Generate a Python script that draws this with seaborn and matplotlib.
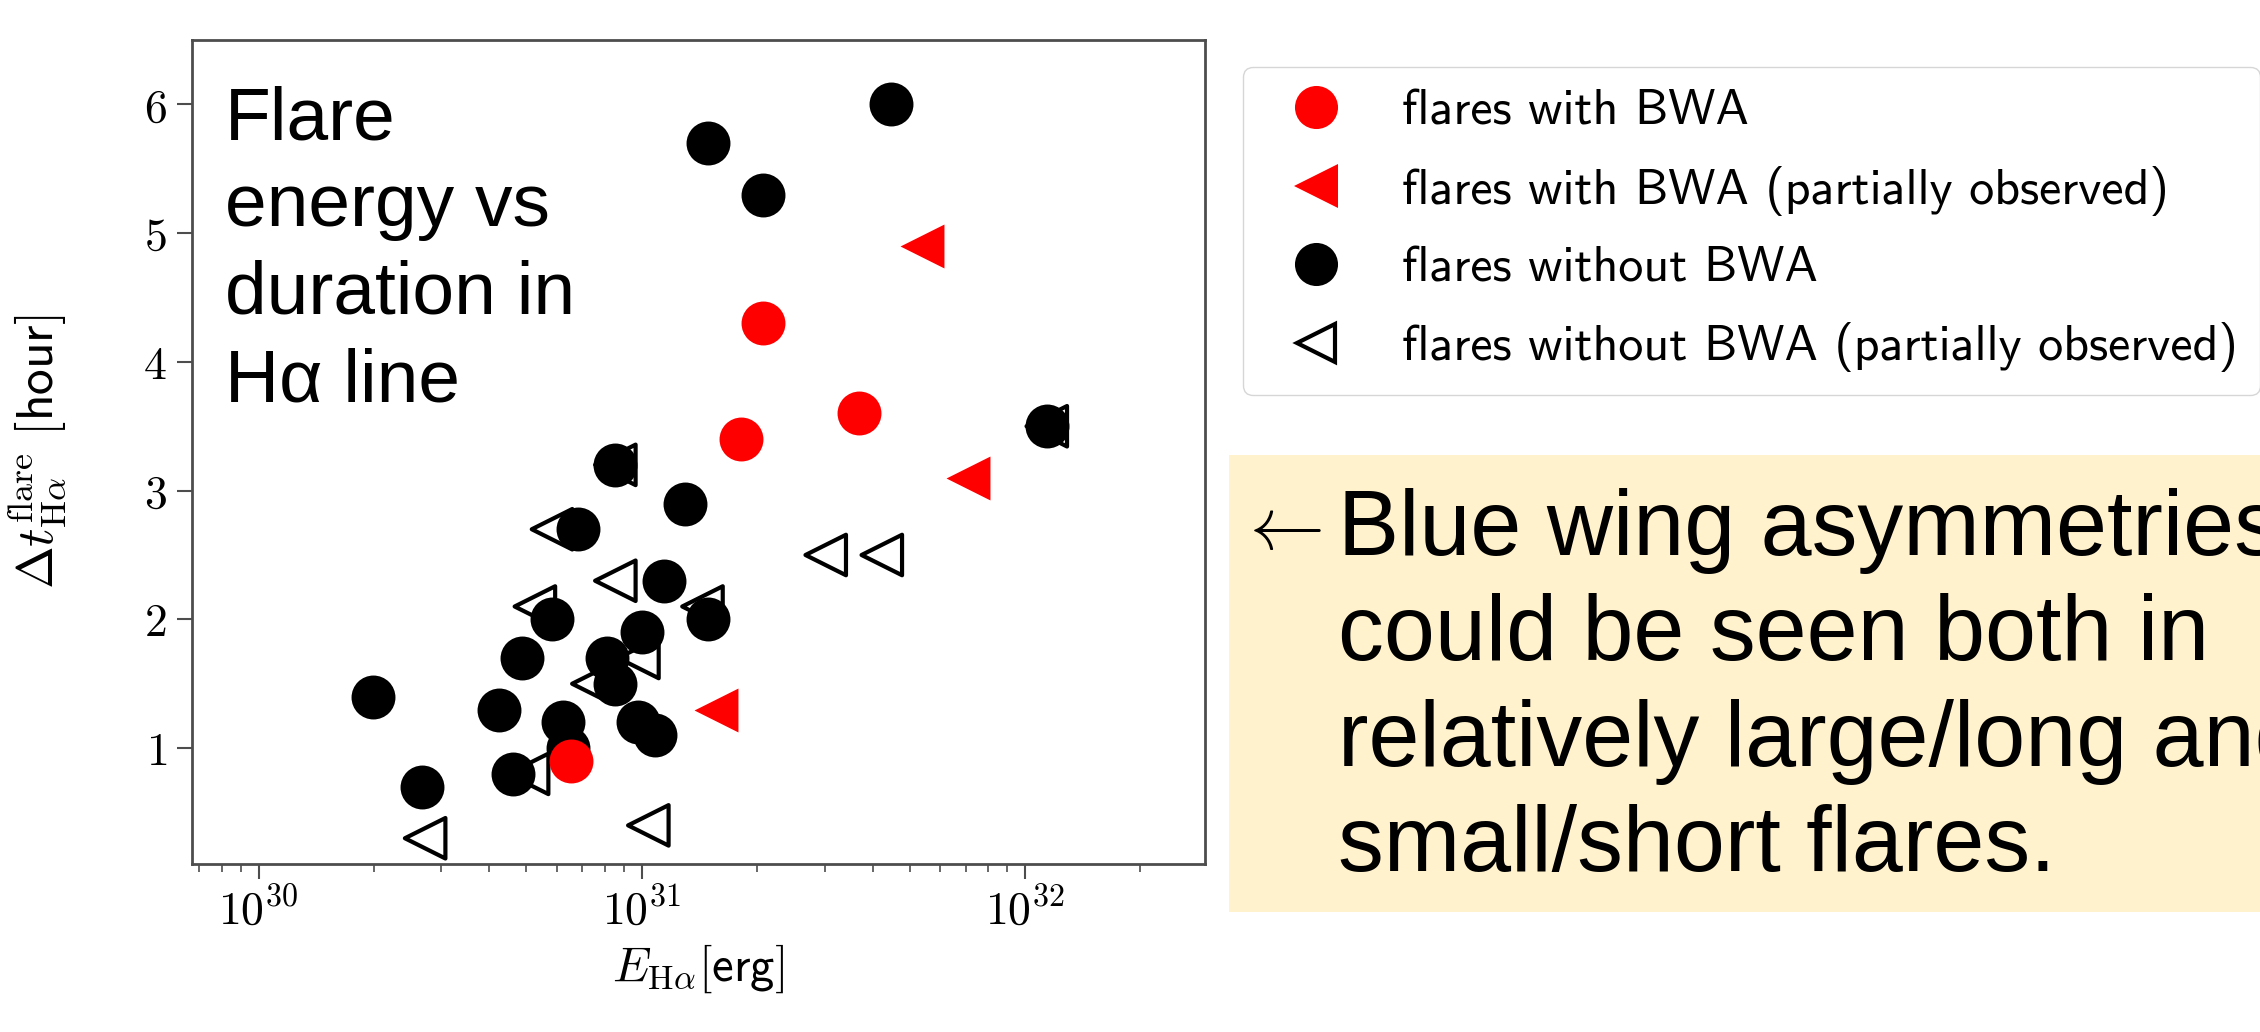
import matplotlib
matplotlib.use("Agg")
import numpy as np
from matplotlib import pyplot as plt
from matplotlib.lines import Line2D
from matplotlib.patches import Rectangle
from matplotlib.ticker import FixedLocator, FuncFormatter, LogLocator, NullFormatter
import seaborn as sns

# flares with BWA
bwa_energy = [2.07e31, 1.82e31, 3.68e31, 6.53e30]
bwa_duration = [4.3, 3.4, 3.6, 0.9]

# flares with BWA (partially observed)
bwa_part_energy = [5.38e31, 7.08e31, 1.56e31]
bwa_part_duration = [4.9, 3.1, 1.3]

# flares without BWA
nobwa_energy = [4.46e31, 1.49e31, 2.07e31, 1.14e32, 8.53e30, 1.30e31, 6.82e30,
                1.14e31, 5.83e30, 1.49e31, 1.00e31, 4.88e30, 8.09e30, 8.53e30,
                1.99e30, 4.25e30, 6.21e30, 6.41e30, 9.79e30, 1.08e31, 4.62e30,
                2.67e30]
nobwa_duration = [6.0, 5.7, 5.3, 3.5, 3.2, 2.9, 2.7,
                  2.3, 2.0, 2.0, 1.9, 1.7, 1.7, 1.5,
                  1.4, 1.3, 1.2, 1.0, 1.2, 1.1, 0.8,
                  0.7]

# flares without BWA (partially observed)
nobwa_part_energy = [5.83e30, 3.02e31, 4.23e31, 8.53e30, 5.26e30, 1.44e31,
                     9.8e30, 7.43e30, 5.05e30, 2.72e30, 1.04e31, 8.53e30,
                     1.14e32]
nobwa_part_duration = [2.7, 2.5, 2.5, 2.3, 2.1, 2.1,
                       1.7, 1.5, 0.8, 0.3, 0.4, 3.2,
                       3.5]

legend_labels = [
    "flares with BWA",
    "flares with BWA (partially observed)",
    "flares without BWA",
    "flares without BWA (partially observed)",
]
x_ticks = [1e30, 1e31, 1e32]
y_ticks = [1, 2, 3, 4, 5, 6]

title_text = "Flare\nenergy vs\nduration in\nHα line"
note_text = ("Blue wing asymmetries\ncould be seen both in\n"
             "relatively large/long and\nsmall/short flares.")

sns.set_theme(style="ticks")
plt.rcParams["font.family"] = ["Liberation Sans", "DejaVu Sans"]
plt.rcParams["mathtext.fontset"] = "cm"
plt.rcParams["axes.unicode_minus"] = False
plt.rcParams["text.color"] = "black"
plt.rcParams["axes.labelcolor"] = "black"

W, H = 2260, 1032
fig = plt.figure(figsize=(22.6, 10.32), dpi=100)
ax = fig.add_axes([192 / W, 1 - 864 / H, 1013 / W, 824 / H])

MS = 1000
sns.scatterplot(x=nobwa_part_energy, y=nobwa_part_duration, marker="<", s=850,
                color="black", linewidth=3, ax=ax, zorder=2)
open_tri = ax.collections[-1]
open_tri.set_facecolor("none")
open_tri.set_edgecolor("black")
sns.scatterplot(x=nobwa_energy, y=nobwa_duration, marker="o", s=MS,
                color="black", linewidth=0, ax=ax, zorder=3)
sns.scatterplot(x=bwa_part_energy, y=bwa_part_duration, marker="<", s=MS,
                color="red", linewidth=0, ax=ax, zorder=4)
sns.scatterplot(x=bwa_energy, y=bwa_duration, marker="o", s=MS,
                color="red", linewidth=0, ax=ax, zorder=5)

ax.set_xscale("log")
ax.set_xlim(6.7e29, 2.95e32)
ax.set_ylim(0.1, 6.5)
ax.xaxis.set_major_locator(FixedLocator(x_ticks))
ax.xaxis.set_major_formatter(
    FuncFormatter(lambda v, p: r"$10^{%d}$" % round(np.log10(v))))
ax.xaxis.set_minor_locator(LogLocator(base=10, subs=np.arange(2, 10), numticks=20))
ax.xaxis.set_minor_formatter(NullFormatter())
ax.yaxis.set_major_locator(FixedLocator(y_ticks))
ax.yaxis.set_major_formatter(FuncFormatter(lambda v, p: r"$%d$" % v))

ax.tick_params(axis="both", which="major", direction="out", length=11,
               width=1.5, color="0.3", labelsize=33, pad=7, labelcolor="black")
ax.tick_params(axis="x", which="minor", direction="out", length=6,
               width=1.2, color="0.3")
for sp in ax.spines.values():
    sp.set_color("0.3")
    sp.set_linewidth(2)

ax.set_xlabel(r"$E_{\rm H\alpha}\mathsf{[erg]}$", fontsize=35, labelpad=6)
ax.set_ylabel(r"$\Delta t^{\rm flare}_{\rm H\alpha}\ \mathsf{[hour]}$",
              fontsize=37)
ax.yaxis.set_label_coords(-0.122, 0.5)

fig.text(225 / W, 1 - 85 / H, title_text, fontsize=54, va="top", ha="left",
         linespacing=1.34)

# yellow note box
fig.add_artist(Rectangle((1229 / W, 1 - 912 / H), 1.0, 457 / H,
                         transform=fig.transFigure, facecolor="#FFF2CC",
                         edgecolor="none", zorder=0))
fig.text(1236 / W, 1 - 529 / H, r"$\leftarrow$", fontsize=54, va="center",
         ha="left")
fig.text(1338 / W, 1 - 488 / H, note_text, fontsize=66, va="top", ha="left",
         linespacing=1.29)

handles = [
    Line2D([], [], ls="none", marker="o", ms=31, mfc="red", mec="red", mew=0),
    Line2D([], [], ls="none", marker="<", ms=31, mfc="red", mec="red", mew=0),
    Line2D([], [], ls="none", marker="o", ms=31, mfc="black", mec="black", mew=0),
    Line2D([], [], ls="none", marker="<", ms=28, mfc="none", mec="black", mew=3),
]
fig.legend(handles, legend_labels, loc="upper left",
           bbox_to_anchor=(1243 / W, 1 - 67 / H),
           prop={"family": "cmss10", "size": 36}, frameon=True,
           borderaxespad=0, labelspacing=0.62, handletextpad=0.72,
           borderpad=0.45, edgecolor="0.8")

fig.savefig("out.png", dpi=100)
